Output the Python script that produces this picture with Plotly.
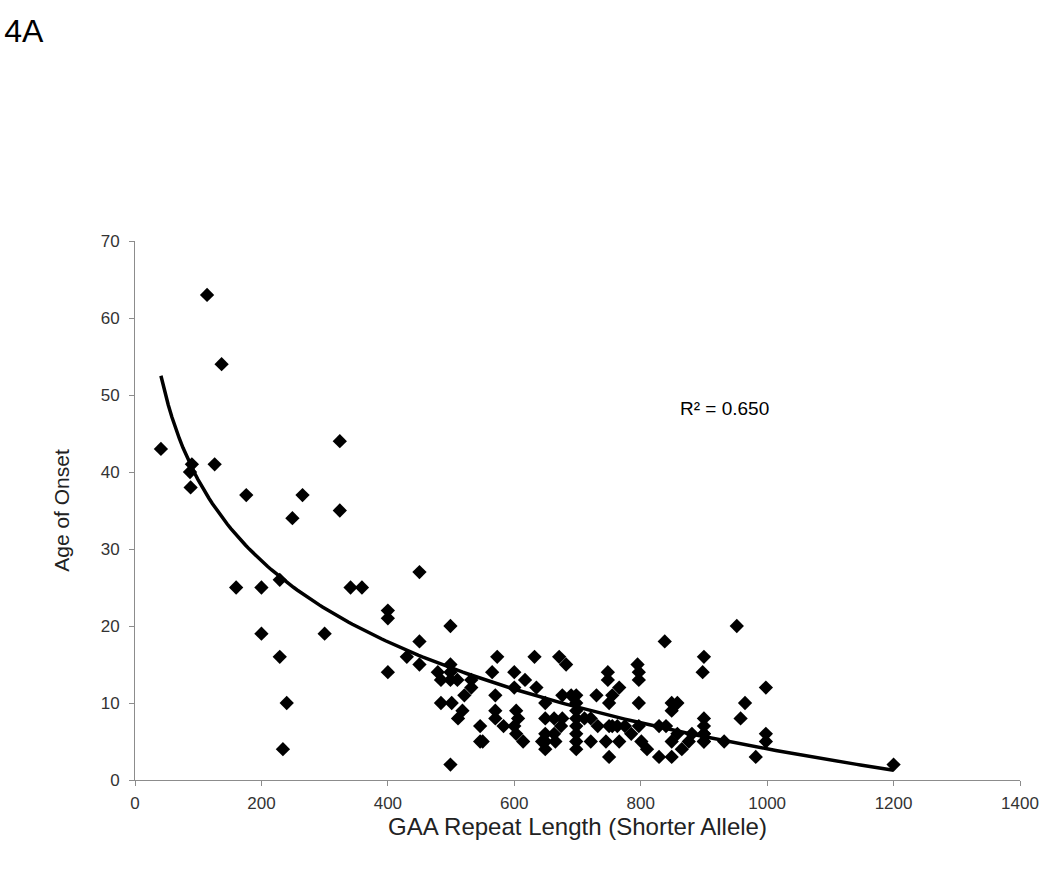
import numpy as np
import plotly.graph_objects as go

# GAA repeat length (shorter allele) and age of onset
gaa_length = [
    41, 90, 87, 88, 114, 126, 137, 160, 176, 200, 200, 229, 229, 234, 240, 249, 265,
    300, 324, 324, 341, 359, 400, 400, 400, 430, 450, 450, 450,
    499, 499, 499, 479, 484, 499, 510, 532, 532, 521, 484, 501, 518, 511, 499,
    546, 546, 550, 565, 573, 570, 570, 570, 583, 600, 617, 600, 603, 606, 600, 603, 614,
    632, 635, 644, 649, 649, 649, 649, 649, 663, 663, 665, 671, 682, 676, 690, 698,
    676, 674, 698, 698, 698, 698, 698, 698, 698, 711, 721, 721, 730, 732, 748, 748,
    750, 755, 750, 755, 750, 745, 766, 766, 763, 775, 785, 795, 797, 797, 797, 797,
    801, 810, 829, 829, 838, 840, 849, 858, 849, 849, 849, 858, 865, 876, 881,
    900, 898, 900, 900, 900, 900, 900, 900, 932, 952, 958, 965, 982, 998, 998, 998, 1200,
]
age_onset = [
    43, 41, 40, 38, 63, 41, 54, 25, 37, 25, 19, 26, 16, 4, 10, 34, 37,
    19, 44, 35, 25, 25, 22, 21, 14, 16, 27, 18, 15,
    20, 15, 14, 14, 13, 13, 13, 13, 12, 11, 10, 10, 9, 8, 2,
    7, 5, 5, 14, 16, 11, 9, 8, 7, 14, 13, 12, 9, 8, 7, 6, 5,
    16, 12, 5, 10, 8, 6, 5, 4, 8, 6, 5, 16, 15, 11, 11, 11,
    8, 7, 10, 9, 8, 7, 6, 5, 4, 8, 8, 5, 11, 7, 14, 13,
    10, 11, 7, 7, 3, 5, 12, 5, 7, 7, 6, 15, 14, 13, 10, 7,
    5, 4, 7, 3, 18, 7, 10, 10, 9, 5, 3, 6, 4, 5, 6,
    16, 14, 8, 7, 6, 6, 5, 5, 5, 20, 8, 10, 3, 12, 6, 5, 2,
]
r2_label = "R² = 0.650"
x_ticks = [0, 200, 400, 600, 800, 1000, 1200, 1400]
y_ticks = [0, 10, 20, 30, 40, 50, 60, 70]

# logarithmic trendline fitted to the data
xs = np.array(gaa_length, dtype=float)
ys = np.array(age_onset, dtype=float)
a, b = np.polyfit(np.log(xs), ys, 1)
fit_x = np.linspace(xs.min(), xs.max(), 200)
fit_y = a * np.log(fit_x) + b

font_family = "Liberation Sans, Arial, sans-serif"

fig = go.Figure()
fig.add_trace(go.Scatter(
    x=gaa_length, y=age_onset, mode="markers",
    marker=dict(symbol="diamond", size=11, color="black"),
    showlegend=False, hoverinfo="x+y",
))
fig.add_trace(go.Scatter(
    x=fit_x, y=fit_y, mode="lines",
    line=dict(color="black", width=3.5),
    showlegend=False, hoverinfo="skip",
))

fig.add_annotation(
    x=933, y=48.2, xref="x", yref="y", text=r2_label, showarrow=False,
    font=dict(family=font_family, size=19, color="black"),
)

axis_common = dict(
    showline=True, linecolor="#8c8c8c", linewidth=1,
    ticks="outside", ticklen=5, tickcolor="#8c8c8c",
    showgrid=False, zeroline=False, automargin=False,
    tickfont=dict(family=font_family, size=17, color="#333333"),
)

fig.update_layout(
    width=1050, height=877,
    paper_bgcolor="white", plot_bgcolor="white",
    margin=dict(l=135, r=30, t=241, b=97),
    title=dict(
        text="4A", x=0.004, xref="container", xanchor="left",
        y=1 - 31 / 877, yref="container", yanchor="middle",
        font=dict(family=font_family, size=32, color="black"),
    ),
    xaxis=dict(
        range=[0, 1400], tickvals=x_ticks, ticklabelstandoff=3,
        title=dict(text="GAA Repeat Length (Shorter Allele)", standoff=1,
                   font=dict(family=font_family, size=24, color="#222222")),
        **axis_common,
    ),
    yaxis=dict(
        range=[0, 70], tickvals=y_ticks, ticklabelstandoff=6,
        title=dict(text="Age of Onset", standoff=25,
                   font=dict(family=font_family, size=21, color="#222222")),
        **axis_common,
    ),
)

fig.write_html(
    "out.html",
    config={"displayModeBar": False},
    post_script="document.body.style.margin='0';document.body.style.overflow='hidden';",
)
